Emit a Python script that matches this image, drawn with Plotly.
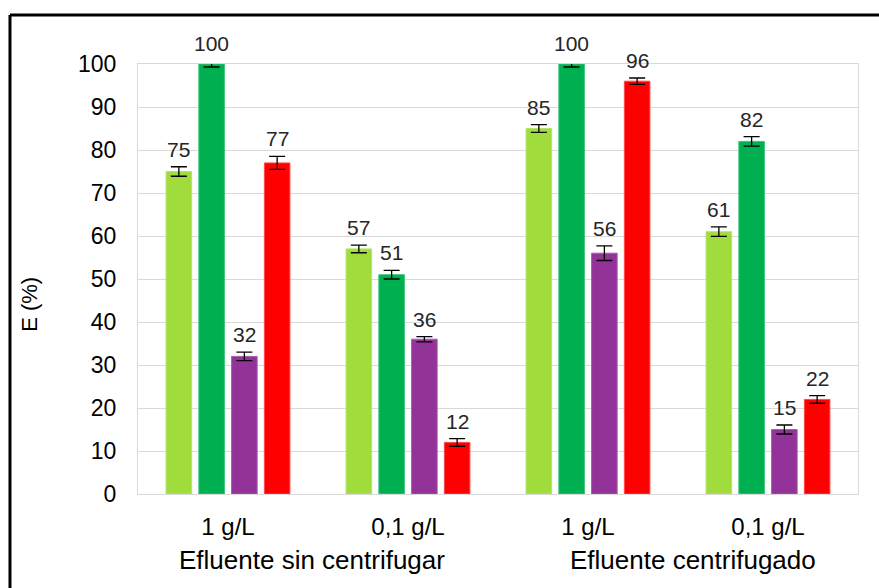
import plotly.graph_objects as go

# Concentration groups along the x axis
concentrations = ["1 g/L", "0,1 g/L", "1 g/L", "0,1 g/L"]
effluent_groups = ["Efluente sin centrifugar", "Efluente centrifugado"]

# Removal efficiency E (%) for each of the four series, per concentration
serie_a = [75, 57, 85, 61]
serie_b = [100, 51, 100, 82]
serie_c = [32, 36, 56, 15]
serie_d = [77, 12, 96, 22]

# Standard deviations (error bars)
err_a = [1.1, 0.9, 0.9, 1.1]
err_b = [0.7, 1.0, 0.7, 1.1]
err_c = [1.0, 0.6, 1.7, 1.05]
err_d = [1.5, 0.9, 0.75, 0.9]

y_ticks = list(range(0, 101, 10))

series = [
    ("Serie A", serie_a, err_a, "#9FDC3C", "#B4E46A"),
    ("Serie B", serie_b, err_b, "#00AF50", "#3CC478"),
    ("Serie C", serie_c, err_c, "#933399", "#A95BAE"),
    ("Serie D", serie_d, err_d, "#FF0000", "#FF4A4A"),
]

pitch = 0.182   # distance between neighbouring bars in a group (category units)
bar_w = 0.142   # bar width (category units)
centers = list(range(len(concentrations)))

FONT = "Liberation Sans, Arial"
PLOT_H = 588 - 64 - 94          # plot-area height in px
PX_PER_UNIT = PLOT_H / 100.0    # y-axis scale (0..100)

fig = go.Figure()
annotations = []

for i, (name, vals, errs, color, edge) in enumerate(series):
    offset = (i - 1.5) * pitch
    xs = [c + offset for c in centers]
    fig.add_trace(go.Bar(
        x=xs, y=vals, width=bar_w, name=name,
        marker=dict(color=color, line=dict(color=edge, width=1)),
        error_y=dict(type="data", array=errs, visible=True,
                     color="#000000", thickness=1.3, width=8),
        showlegend=False,
    ))
    # value labels anchored at the bar top, lifted above the error bar
    for x, v, e in zip(xs, vals, errs):
        annotations.append(dict(
            x=x, y=v, xref="x", yref="y", text=str(v),
            showarrow=False, xanchor="center", yanchor="bottom",
            yshift=e * PX_PER_UNIT + 4,
            font=dict(family=FONT, size=21, color="#262626"),
        ))

# outer category labels
for label, xpos in zip(effluent_groups, [0.464, 2.586]):
    annotations.append(dict(
        x=xpos, y=-0.153, xref="x", yref="paper", text=label,
        showarrow=False, xanchor="center", yanchor="middle",
        font=dict(family=FONT, size=26, color="#000000"),
    ))

# y-axis title
annotations.append(dict(
    x=-0.15, y=0.44, xref="paper", yref="paper", text="E (%)",
    showarrow=False, textangle=-90, xanchor="center", yanchor="middle",
    font=dict(family=FONT, size=22, color="#000000"),
))

frame = dict(type="line", xref="paper", yref="paper",
             line=dict(color="#000000", width=3))
shapes = [
    dict(frame, x0=-0.1778, x1=1.2, y0=1.114, y1=1.114),
    dict(frame, x0=-0.1778, x1=-0.1778, y0=1.114, y1=-0.3),
]

fig.update_layout(
    width=879, height=588,
    margin=dict(l=138, r=21, t=64, b=94),
    paper_bgcolor="#FFFFFF", plot_bgcolor="#FFFFFF",
    font=dict(family=FONT, color="#000000"),
    xaxis=dict(
        range=[-0.5, 3.5], tickvals=centers, ticktext=concentrations,
        showgrid=False, zeroline=False,
        showline=True, linecolor="#D9D9D9", linewidth=1, mirror=True,
        ticks="", ticklabelstandoff=11,
        tickfont=dict(size=24, color="#000000"),
    ),
    yaxis=dict(
        range=[0, 100], tickvals=y_ticks,
        showgrid=True, gridcolor="#D9D9D9", gridwidth=1, zeroline=False,
        showline=True, linecolor="#D9D9D9", linewidth=1, mirror=True,
        ticks="", ticklabelstandoff=16,
        tickfont=dict(size=23, color="#000000"),
    ),
    annotations=annotations,
    shapes=shapes,
)

fig.write_html("out.html")
